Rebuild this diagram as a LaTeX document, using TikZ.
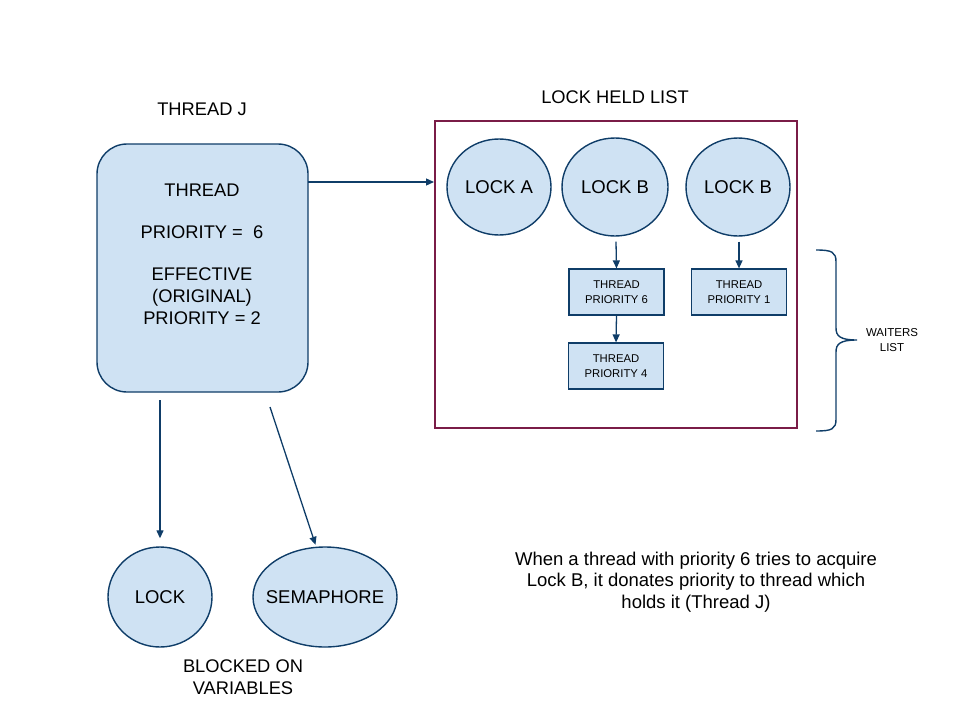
\documentclass[tikz,border=0pt]{standalone}
\usepackage{fontspec}
\setmainfont{Liberation Sans}
\usetikzlibrary{arrows.meta,shapes.geometric}
\definecolor{fillb}{HTML}{CFE2F3}
\definecolor{lineb}{HTML}{0F3D68}
\definecolor{maroon}{HTML}{7A1C47}
\begin{document}
\begin{tikzpicture}[x=1pt,y=-1pt,
  shapeb/.style={draw=lineb,fill=fillb,line width=1.4pt},
  ell/.style={shapeb,ellipse,inner sep=0pt,font=\fontsize{18.5}{20}\selectfont},
  tbox/.style={shapeb,rectangle,line width=1.2pt,minimum width=95pt,minimum height=46pt,inner sep=0pt,align=center,font=\fontsize{11.3}{15}\selectfont},
  lbl/.style={align=center,font=\fontsize{18.3}{22}\selectfont},
  arr/.style={draw=lineb,line width=1.3pt,-{Triangle[length=8pt,width=7pt]}}]
\useasboundingbox (0,0) rectangle (960,720);
\node[lbl] (tj) at (202,109) {THREAD J};
\node[shapeb,rectangle,rounded corners=30pt,minimum width=211pt,minimum height=248pt] (thr) at (202.5,268) {};
\node[lbl,font=\fontsize{18.3}{22}\selectfont,anchor=north] (thrtxt) at (202,180) {THREAD\\[20pt]PRIORITY =\ \ 6\\[20pt]EFFECTIVE\\(ORIGINAL)\\PRIORITY = 2};
\node[lbl] (lhl) at (615,97) {LOCK HELD LIST};
\node[draw=maroon,line width=1.4pt,minimum width=362pt,minimum height=307pt,inner sep=0pt] (list) at (616,274.5) {};
\node[ell,minimum width=104pt,minimum height=96pt] (la) at (499,187) {\makebox[0pt]{LOCK A}};
\node[ell,minimum width=106pt,minimum height=98pt] (lb1) at (615,187) {\makebox[0pt]{LOCK B}};
\node[ell,minimum width=104pt,minimum height=98pt] (lb2) at (738,187) {\makebox[0pt]{LOCK B}};
\node[tbox] (t6) at (616.5,292) {THREAD\\PRIORITY 6};
\node[tbox] (t1) at (739,292) {THREAD\\PRIORITY 1};
\node[tbox] (t4) at (616,366) {THREAD\\PRIORITY 4};
\coordinate (a1s) at (308,182);
\coordinate (a1e) at (434,182);
\draw[arr] (a1s) -- (a1e);
\draw[arr] (lb1.south) ++(1,5) -- (t6.north);
\draw[arr] (lb2.south) ++(1,5) -- (t1.north);
\draw[arr] (t6.south) -- (t4.north);
\node[ell,minimum width=104pt,minimum height=100pt] (lock) at (160,597) {\makebox[0pt]{LOCK}};
\node[ell,minimum width=144pt,minimum height=100pt] (sem) at (325,597) {\makebox[0pt]{SEMAPHORE}};
\coordinate (d1) at (160,400);
\coordinate (d2) at (270,407);
\draw[arr,shorten >=8pt] (d1) -- (lock.north);
\draw[arr,shorten >=2pt] (d2) -- (sem.100);
\node[lbl] (blk) at (243,677) {BLOCKED ON\\VARIABLES};
\coordinate (bt) at (816,250);
\coordinate (bb) at (816,431);
\coordinate (bm) at (857,340);
\draw[lineb,line width=1.4pt] (bt) .. controls (832,250) and (836,252) .. (836,262)
  -- (836,328) .. controls (836,336) and (840,340) .. (bm)
  (bm) .. controls (840,340) and (836,344) .. (836,352)
  -- (836,419) .. controls (836,429) and (832,431) .. (bb);
\node[align=center,font=\fontsize{11.5}{15}\selectfont] (wl) at (892,340) {WAITERS\\LIST};
\node[align=center,font=\fontsize{18.5}{21.5}\selectfont] (note) at (696,582) {When a thread with priority 6 tries to acquire\\Lock B, it donates priority to thread which\\holds it (Thread J)};
\end{tikzpicture}
\end{document}
